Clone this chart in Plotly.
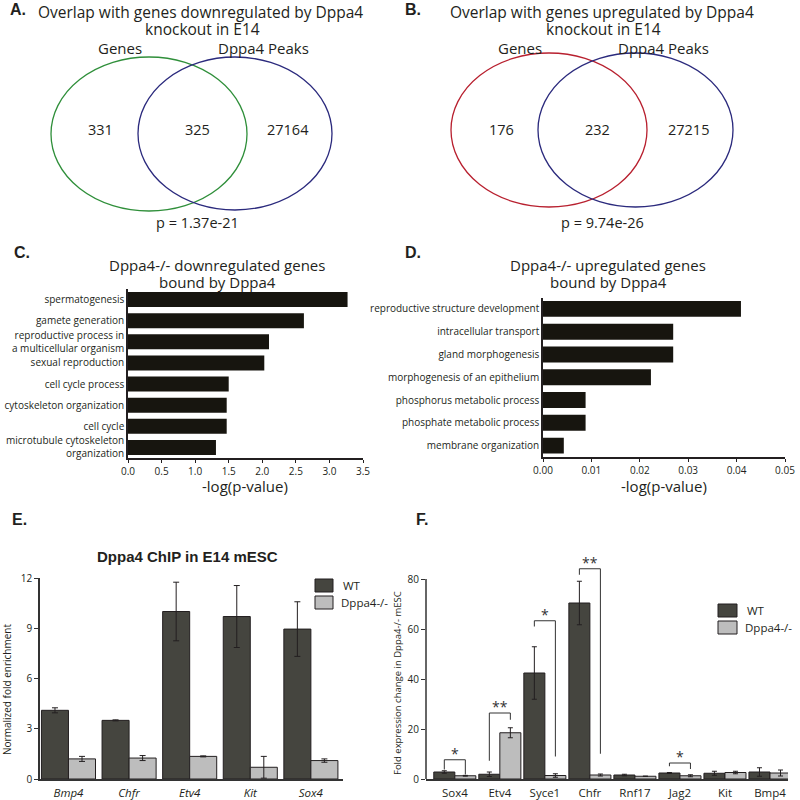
import plotly.graph_objects as go

W, H = 800, 800
def px(x): return x / W
def py(y): return 1 - y / H

FONT = "Open Sans"
BOLD = "Liberation Sans"
INK = "#231f20"
DARK = "#45453f"
LIGHT = "#bdbdbd"

# ---------------- data ----------------
venn_down = [331, 325, 27164]
venn_up = [176, 232, 27215]
p_down = "1.37e-21"
p_up = "9.74e-26"

go_down_terms = ["spermatogenesis", "gamete generation",
                 "reproductive process in<br>a multicellular organism",
                 "sexual reproduction", "cell cycle process",
                 "cytoskeleton organization", "cell cycle",
                 "microtubule cytoskeleton<br>organization"]
go_down_vals = [3.27, 2.62, 2.10, 2.03, 1.50, 1.47, 1.47, 1.31]

go_up_terms = ["reproductive structure development", "intracellular transport",
               "gland morphogenesis", "morphogenesis of an epithelium",
               "phosphorus metabolic process", "phosphate metabolic process",
               "membrane organization"]
go_up_vals = [0.0409, 0.0269, 0.0269, 0.0223, 0.0088, 0.0088, 0.0043]

chip_genes = ["Bmp4", "Chfr", "Etv4", "Kit", "Sox4"]
chip_wt = [4.1, 3.5, 10.0, 9.7, 8.95]
chip_wt_err = [0.15, 0.03, 1.75, 1.85, 1.63]
chip_ko = [1.2, 1.25, 1.35, 0.7, 1.1]
chip_ko_err = [0.15, 0.15, 0.03, 0.65, 0.1]

expr_genes = ["Sox4", "Etv4", "Syce1", "Chfr", "Rnf17", "Jag2", "Kit", "Bmp4"]
expr_wt = [2.8, 1.9, 42.4, 70.4, 1.6, 2.4, 2.3, 2.8]
expr_wt_err = [0.5, 0.9, 10.5, 8.7, 0.3, 0.2, 0.8, 1.7]
expr_ko = [1.3, 18.5, 1.4, 1.6, 1.1, 1.3, 2.6, 2.4]
expr_ko_err = [0.15, 2.0, 0.7, 0.4, 0.05, 0.4, 0.5, 1.2]

sig_idx = [0, 1, 2, 3, 5]
sig_top = [7.7, 26.4, 63.3, 84.1, 6.4]
sig_left = [3.8, 7.3, 61.0, 81.7, 5.1]
sig_right = [1.8, 23.7, 9.0, 10.1, 4.0]
sig_text = ["*", "**", "*", "**", "*"]

# ---------------- figure ----------------
fig = go.Figure()

# C
fig.add_trace(go.Bar(y=go_down_terms, x=go_down_vals, orientation="h",
                     marker=dict(color="#17150f", line=dict(width=0)), width=0.71,
                     xaxis="x", yaxis="y"))
# D
fig.add_trace(go.Bar(y=go_up_terms, x=go_up_vals, orientation="h",
                     marker=dict(color="#17150f", line=dict(width=0)), width=0.7,
                     xaxis="x2", yaxis="y2"))

# E
we = 0.446
xi_e = list(range(len(chip_genes)))
fig.add_trace(go.Bar(x=xi_e, y=chip_wt, width=we, offset=-we, name="WT",
                     marker=dict(color=DARK, line=dict(color=INK, width=1)),
                     error_y=dict(type="data", array=chip_wt_err, color=INK, thickness=1, width=3),
                     xaxis="x3", yaxis="y3"))
fig.add_trace(go.Bar(x=xi_e, y=chip_ko, width=we, offset=0, name="Dppa4-/-",
                     marker=dict(color=LIGHT, line=dict(color=INK, width=1)),
                     error_y=dict(type="data", array=chip_ko_err, color=INK, thickness=1, width=3),
                     xaxis="x3", yaxis="y3"))

# F
wf = 0.467
xi_f = list(range(len(expr_genes)))
fig.add_trace(go.Bar(x=xi_f, y=expr_wt, width=wf, offset=-wf, name="WT",
                     marker=dict(color=DARK, line=dict(color=INK, width=1)),
                     error_y=dict(type="data", array=expr_wt_err, color=INK, thickness=1, width=2.5),
                     xaxis="x4", yaxis="y4"))
fig.add_trace(go.Bar(x=xi_f, y=expr_ko, width=wf, offset=0, name="Dppa4-/-",
                     marker=dict(color=LIGHT, line=dict(color=INK, width=1)),
                     error_y=dict(type="data", array=expr_ko_err, color=INK, thickness=1, width=2.5),
                     xaxis="x4", yaxis="y4"))

# significance brackets
bx, by = [], []
for k, i in enumerate(sig_idx):
    xl, xr = i - wf / 2, i + wf / 2
    bx += [xl, xl, xr, xr, None]
    by += [sig_left[k], sig_top[k], sig_top[k], sig_right[k], None]
fig.add_trace(go.Scatter(x=bx, y=by, mode="lines", line=dict(color="#333", width=1),
                         xaxis="x4", yaxis="y4", hoverinfo="skip"))

ann = []
for k, i in enumerate(sig_idx):
    ann.append(dict(x=i, y=sig_top[k], xref="x4", yref="y4", text=sig_text[k],
                    showarrow=False, yanchor="bottom", yshift=-5,
                    font=dict(family=FONT, size=14, color="#333")))

def txt(x, y, s, size=13, xanchor="center", family=FONT, color=INK, angle=0):
    ann.append(dict(x=px(x), y=py(y), xref="paper", yref="paper", text=s,
                    showarrow=False, xanchor=xanchor, yanchor="middle",
                    textangle=angle, font=dict(family=family, size=size, color=color)))

# panel letters
for L, x, y in [("A.", 8, 10), ("B.", 403, 10), ("C.", 12, 253), ("D.", 403, 253),
                ("E.", 10, 519), ("F.", 414, 519)]:
    txt(x, y, "<b>%s</b>" % L, size=16, xanchor="left", family=BOLD)

TS = 15.5
LS = 15
NS = 14.5
# Venn A
txt(201, 12, "Overlap with genes downregulated by Dppa4", TS)
txt(203, 29, "knockout in E14", TS)
txt(120, 48, "Genes", LS)
txt(263, 48, "Dppa4 Peaks", LS)
txt(100, 130, str(venn_down[0]), NS)
txt(197, 130, str(venn_down[1]), NS)
txt(288, 130, str(venn_down[2]), NS)
txt(197, 222, "p = " + p_down, NS)
# Venn B
txt(602, 12, "Overlap with genes upregulated by Dppa4", TS)
txt(603, 29, "knockout in E14", TS)
txt(520, 48, "Genes", LS)
txt(663, 48, "Dppa4 Peaks", LS)
txt(501, 129, str(venn_up[0]), NS)
txt(597, 129, str(venn_up[1]), NS)
txt(688, 129, str(venn_up[2]), NS)
txt(602, 222, "p = " + p_up, NS)

# C, D titles
txt(217, 265, "Dppa4-/- downregulated genes", 15)
txt(217, 282, "bound by Dppa4", 15)
txt(608, 265, "Dppa4-/- upregulated genes", 15)
txt(608, 282, "bound by Dppa4", 15)
txt(245, 486, "-log(p-value)", 15)
txt(664, 486, "-log(p-value)", 15)

# E, F
txt(187, 556, "<b>Dppa4 ChIP in E14 mESC</b>", 15, family=BOLD)
txt(7, 690, "Normalized fold enrichment", 10, angle=-90)
txt(397, 683, "Fold expression change in Dppa4-/- mESC", 9.5, angle=-90)

shapes = []
def rect(x0, y0, x1, y1, fill):
    shapes.append(dict(type="rect", xref="paper", yref="paper", x0=px(x0), x1=px(x1),
                       y0=py(y1), y1=py(y0), fillcolor=fill, line=dict(color=INK, width=1)))

rect(315, 579, 333, 592, DARK)
rect(315, 596, 333, 609, LIGHT)
txt(341, 585.5, "WT", 11.5, xanchor="left")
txt(339, 602.5, "Dppa4-/-", 11.5, xanchor="left")
rect(718, 604, 737, 617, DARK)
rect(718, 621, 737, 634, LIGHT)
txt(745, 610.5, "WT", 11.5, xanchor="left")
txt(743, 627.5, "Dppa4-/-", 11.5, xanchor="left")

def ell(x0, y0, x1, y1, col):
    shapes.append(dict(type="circle", xref="paper", yref="paper", x0=px(x0), x1=px(x1),
                       y0=py(y1), y1=py(y0), line=dict(color=col, width=1.3)))

ell(51, 57, 247, 211, "#2f8f3a")
ell(138, 57, 332, 210, "#2b2a7d")
ell(451, 53, 647, 207, "#b8202f")
ell(538, 53, 733, 207, "#2b2a7d")

# F y-axis line (only up to 80)
shapes.append(dict(type="line", xref="x4 domain", yref="y4", x0=0, x1=0, y0=0, y1=80,
                   line=dict(color="#333", width=1.5)))

tickfont = dict(family=FONT, size=10, color=INK)
common = dict(automargin=False, showgrid=False, zeroline=False)
fig.update_layout(
    template="none",
    width=W, height=H, margin=dict(l=0, r=0, t=0, b=0, pad=0), autosize=False,
    paper_bgcolor="white", plot_bgcolor="white", showlegend=False,
    font=dict(family=FONT, color=INK),
    annotations=ann, shapes=shapes,
    xaxis=dict(domain=[px(128), px(363)], range=[0, 3.5], dtick=0.5, tickformat=".1f",
               anchor="y", showline=True, linecolor=INK, linewidth=1.5, ticks="outside",
               ticklen=3, tickcolor=INK, tickfont=tickfont, **common),
    yaxis=dict(domain=[py(458), py(289)], anchor="x", categoryorder="array",
               categoryarray=go_down_terms, autorange="reversed", showline=True,
               linecolor=INK, linewidth=1.5, ticks="", tickfont=tickfont, **common),
    xaxis2=dict(domain=[px(543), px(785)], range=[0, 0.05], dtick=0.01, tickformat=".2f",
                anchor="y2", showline=True, linecolor=INK, linewidth=1.5, ticks="outside",
                ticklen=3, tickcolor=INK, tickfont=tickfont, **common),
    yaxis2=dict(domain=[py(457), py(297.5)], anchor="x2", categoryorder="array",
                categoryarray=go_up_terms, autorange="reversed", showline=True,
                linecolor=INK, linewidth=1.5, ticks="", tickfont=tickfont, **common),
    xaxis3=dict(domain=[px(40), px(343)], range=[-0.47, 4.53], anchor="y3",
                tickvals=xi_e, ticktext=["<i>%s</i>" % g for g in chip_genes],
                showline=True, linecolor="#333", linewidth=1.5, ticks="",
                ticklabelstandoff=2,
                tickfont=dict(family=FONT, size=11.5, color=INK), **common),
    yaxis3=dict(domain=[py(779), py(578)], range=[0, 12], tickvals=[0, 3, 6, 9, 12],
                anchor="x3", showline=True, linecolor="#333", linewidth=1.5, ticks="outside",
                ticklen=4, tickcolor="#333",
                tickfont=dict(family=FONT, size=10, color=INK), **common),
    xaxis4=dict(domain=[px(426), px(788)], range=[-0.64, 7.4], anchor="y4",
                tickvals=xi_f, ticktext=expr_genes,
                showline=True, linecolor="#333", linewidth=1.5, ticks="",
                ticklabelstandoff=2,
                tickfont=dict(family=FONT, size=11.5, color=INK), **common),
    yaxis4=dict(domain=[py(779), py(559)], range=[0, 88], tickvals=[0, 20, 40, 60, 80],
                anchor="x4", showline=False, ticks="outside", ticklen=4, tickcolor="#333",
                tickfont=dict(family=FONT, size=10, color=INK), **common),
)

fig.write_html("out.html", config={"displayModeBar": False},
               post_script="document.body.style.margin='0';")
